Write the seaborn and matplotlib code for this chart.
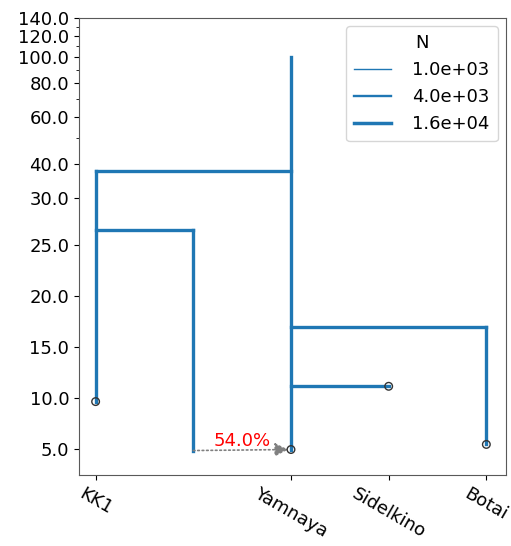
import numpy as np
import pandas as pd
import matplotlib
matplotlib.use("Agg")
import matplotlib.pyplot as plt
from matplotlib.lines import Line2D
import seaborn as sns

# ---- data ----
pops = ["KK1", "ghost", "Yamnaya", "Sidelkino", "Botai"]
pop_x = [0, 1, 2, 3, 4]
sample_pops = ["KK1", "Yamnaya", "Sidelkino", "Botai"]
sample_times = [9.6, 4.9, 11.1, 5.4]
# lineage start (bottom) and end (top) times
pop_start = [9.6, 4.8, 4.9, 11.1, 5.4]
pop_end = [37.8, 26.4, 100.0, 11.1, 16.9]
# merges: child -> parent at time
merge_child = ["Sidelkino", "Botai", "ghost", "KK1"]
merge_parent = ["Yamnaya", "Yamnaya", "KK1", "Yamnaya"]
merge_time = [11.1, 16.9, 26.4, 37.8]
# pulse
pulse_from = "ghost"
pulse_to = "Yamnaya"
pulse_time_from = 4.8
pulse_time_to = 4.9
pulse_frac = 0.54
legend_N = [1.0e3, 4.0e3, 1.6e4]
ytick_major = [5, 10, 15, 20, 25, 30, 40, 60, 80, 100, 120, 140]
ytick_minor = [50, 70, 90, 110, 130]

xpos = dict(zip(pops, pop_x))

# build segments
rows = []
seg = 0
for p, t0, t1 in zip(pops, pop_start, pop_end):
    if t1 > t0:
        rows += [(seg, xpos[p], t0), (seg, xpos[p], t1)]
        seg += 1
for c, par, t in zip(merge_child, merge_parent, merge_time):
    rows += [(seg, xpos[c], t), (seg, xpos[par], t)]
    seg += 1
df = pd.DataFrame(rows, columns=["seg", "x", "t"])

fig = plt.figure(figsize=(5.11, 5.46), dpi=100)
ax = fig.add_axes([0.1546, 0.130, 0.8354, 0.837])

sns.lineplot(data=df, x="x", y="t", units="seg", estimator=None, sort=False,
             color="#1f77b4", lw=2.4, ax=ax, legend=False)

sdf = pd.DataFrame({"x": [xpos[p] for p in sample_pops], "t": sample_times})
sns.scatterplot(data=sdf, x="x", y="t", s=30, facecolor="none",
                edgecolor="#333333", linewidth=1.0, ax=ax, zorder=5)

ax.annotate("", xy=(xpos[pulse_to], pulse_time_to),
            xytext=(xpos[pulse_from], pulse_time_from),
            arrowprops=dict(arrowstyle="-|>", linestyle=":", color="gray",
                            mutation_scale=20, lw=1.2,
                            shrinkA=0, shrinkB=2))
ax.text((xpos[pulse_from] + xpos[pulse_to]) / 2, 5.7,
        f"{pulse_frac*100:.1f}%", color="red", fontsize=13,
        ha="center", va="center")

ax.set_yscale("symlog", linthresh=29.3, linscale=1)
ax.set_ylim(2.4, 140)
ax.set_xlim(-0.17, 4.2)
ax.set_yticks(ytick_major)
ax.set_yticklabels([f"{v:.1f}" for v in ytick_major], fontsize=13)
ax.set_yticks(ytick_minor, minor=True)
ax.set_xticks([xpos[p] for p in sample_pops])
ax.set_xticklabels(sample_pops, fontsize=13, rotation=-30)
ax.set_xlabel("")
ax.set_ylabel("")
for s in ax.spines.values():
    s.set_color("0.35")

handles = [Line2D([], [], color="#1f77b4", lw=w) for w in [1.0, 1.7, 2.5]]
ax.legend(handles, [f"{n:.1e}" for n in legend_N], title="N", loc="upper right",
          fontsize=13, title_fontsize=13, borderaxespad=0.45,
          handletextpad=1.2, borderpad=0.45)

fig.savefig("out.png", dpi=100)
